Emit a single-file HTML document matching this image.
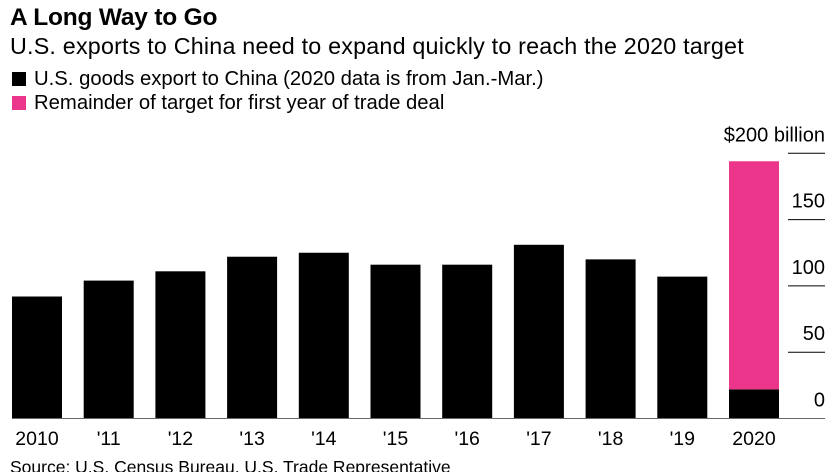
<!DOCTYPE html>
<html><head><meta charset="utf-8"><style>
body{margin:0;background:#fff;font-family:"Liberation Sans",sans-serif;color:#000}
#wrap{position:relative;width:834px;height:472px;overflow:hidden}
.t{position:absolute;white-space:nowrap}
</style></head><body>
<div id="wrap">
<div class="t" style="left:10px;top:4px;font-size:24.5px;font-weight:bold;letter-spacing:-0.2px">A Long Way to Go</div>
<div class="t" style="left:10px;top:33px;font-size:23.3px;letter-spacing:0.2px">U.S. exports to China need to expand quickly to reach the 2020 target</div>
<div class="t" style="left:12px;top:68px;font-size:20.3px"><span style="display:inline-block;width:14px;height:14px;background:#000;vertical-align:-1px;margin-right:8px"></span>U.S. goods export to China (2020 data is from Jan.-Mar.)</div>
<div class="t" style="left:12px;top:92px;font-size:20.3px"><span style="display:inline-block;width:14px;height:14px;background:#ec368c;vertical-align:-1px;margin-right:8px"></span>Remainder of target for first year of trade deal</div>
<svg id="plot" width="834" height="472" style="position:absolute;left:0;top:0"></svg>
<div class="t" style="left:10px;top:457px;font-size:17.5px">Source: U.S. Census Bureau, U.S. Trade Representative</div>
</div>
<script>
const categories=["2010","'11","'12","'13","'14","'15","'16","'17","'18","'19","2020"];
const exportsVals=[92,104,111,122,125,116,116,131,120,107,22];
const remainderVals=[0,0,0,0,0,0,0,0,0,0,172];
const ticks=[0,50,100,150,200];
const tickLabels=["0","50","100","150","$200 billion"];
const NS="http://www.w3.org/2000/svg";
const svg=document.getElementById('plot');
const y0=418.5,pxPer=66.3/50;
const y=v=>y0-v*pxPer;
const x=i=>12+i*71.7;
const bw=50;
function mk(tag,attrs){const e=document.createElementNS(NS,tag);for(const k in attrs)e.setAttribute(k,attrs[k]);svg.appendChild(e);return e;}
ticks.forEach((t,i)=>{
  if(t>0){const l=mk('line',{x1:788,x2:825,y1:y(t),y2:y(t),stroke:'#000','stroke-width':1});
  
  }
  const tx=mk('text',{x:825,y:y(t)-12,'text-anchor':'end','font-size':20,'font-family':'Liberation Sans, sans-serif'});
  tx.textContent=tickLabels[i];
  
  
});
categories.forEach((c,i)=>{
  const b=mk('rect',{x:x(i),y:y(exportsVals[i]),width:bw,height:exportsVals[i]*pxPer,fill:'#000'});
  
  
  if(remainderVals[i]>0){
    const r=mk('rect',{x:x(i),y:y(exportsVals[i]+remainderVals[i]),width:bw,height:remainderVals[i]*pxPer,fill:'#ec368c'});
    
    
  }
  const t=mk('text',{x:x(i)+bw/2,y:445,'text-anchor':'middle','font-size':19.5,'font-family':'Liberation Sans, sans-serif'});
  t.textContent=c;
  
  
});
const base=mk('line',{x1:12,x2:825,y1:y0,y2:y0,stroke:'#666','stroke-width':1});


</script>
</body></html>
